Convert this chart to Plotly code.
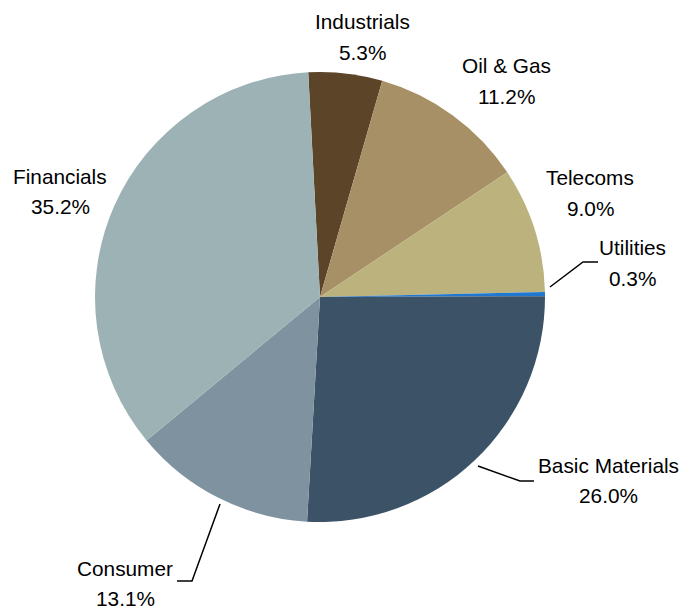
import plotly.graph_objects as go

W, H = 683, 609

sectors = ["Industrials", "Oil & Gas", "Telecoms", "Utilities",
           "Basic Materials", "Consumer", "Financials"]
shares = [5.3, 11.2, 9.0, 0.3, 26.0, 13.1, 35.2]
pct_labels = ["5.3%", "11.2%", "9.0%", "0.3%", "26.0%", "13.1%", "35.2%"]
colors = ["#5B4428", "#A79065", "#BCB27E", "#1F77D0",
          "#3C5367", "#7E929F", "#9DB2B4"]

# label placement (pixel centres of first text line)
label_pos = {
    "Industrials": (362, 20.5),
    "Oil & Gas": (506, 64.5),
    "Telecoms": (590, 176.5),
    "Utilities": (632, 246.5),
    "Basic Materials": (608.5, 464),
    "Consumer": (125, 566.5),
    "Financials": (60, 174.5),
}
# leader lines (pixel points)
leaders = [
    [(550, 287), (583, 262), (598, 262)],
    [(478, 466), (520, 481), (534, 481)],
    [(220, 504), (192, 581), (177, 581)],
]

def px(x, y):
    return x / W, 1 - y / H

cx, cy, r = 320, 297, 225
x0, y0 = px(cx - r, cy + r)
x1, y1 = px(cx + r, cy - r)

fig = go.Figure(go.Pie(
    labels=sectors, values=shares, sort=False, direction="clockwise",
    rotation=-3, marker=dict(colors=colors, line=dict(width=0)),
    textinfo="none", hoverinfo="label+percent", showlegend=False,
    domain=dict(x=[x0, x1], y=[y0, y1]),
))

FONT = dict(family="Liberation Sans, Arial, sans-serif", size=20.8, color="#000000")
DY = 1.5
annotations = []
for name, pct in zip(sectors, pct_labels):
    lx, ly = label_pos[name]
    for text, yy in ((name, ly), (pct, ly + 30)):
        ax, ay = px(lx, yy + DY)
        annotations.append(dict(x=ax, y=ay, xref="paper", yref="paper",
                                text=text, showarrow=False, font=FONT,
                                xanchor="center", yanchor="middle"))

shapes = []
for pts in leaders:
    path = "M " + " L ".join(f"{px(x, y)[0]},{px(x, y)[1]}" for x, y in pts)
    shapes.append(dict(type="path", xref="paper", yref="paper", path=path,
                       line=dict(color="#000000", width=1.5)))

fig.update_layout(width=W, height=H, margin=dict(l=0, r=0, t=0, b=0),
                  paper_bgcolor="white", plot_bgcolor="white",
                  annotations=annotations, shapes=shapes)

fig.write_html("out.html")
